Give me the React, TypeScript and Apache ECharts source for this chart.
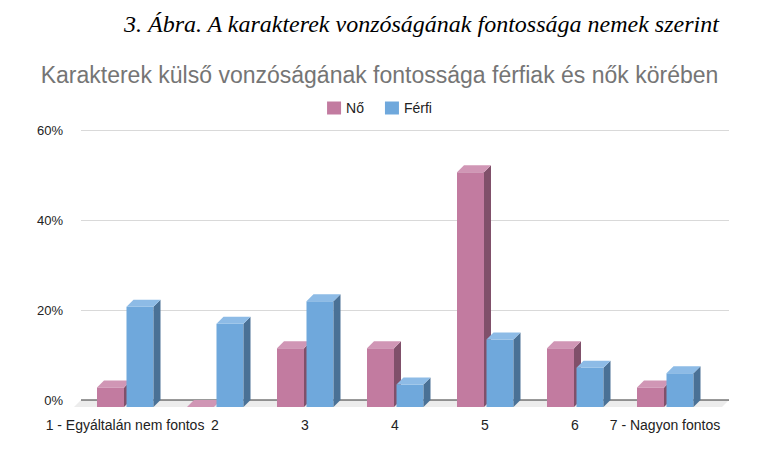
import React, { useEffect, useRef } from "react";
import * as echarts from "echarts";

const categories = ["1 - Egyáltalán nem fontos", "2", "3", "4", "5", "6", "7 - Nagyon fontos"];
const seriesNames = ["Nő", "Férfi"];
const noValues = [4.35, 0, 13.04, 13.04, 52.17, 13.04, 4.35];
const ferfiValues = [22.3, 18.5, 23.5, 5.0, 15.0, 8.7, 7.5];
const yTicks = [0, 20, 40, 60];

const caption = "3. Ábra. A karakterek vonzóságának fontossága nemek szerint";
const chartTitle = "Karakterek külső vonzóságának fontossága férfiak és nők körében";

const palette = [
  { front: "#c27ba0", top: "#d096b5", side: "#80506a" },
  { front: "#6fa8dc", top: "#8dbbe6", side: "#4a7196" },
];

function makeBarRenderer(idx: number) {
  return (params: any, api: any) => {
    const cat = api.value(0);
    const v = api.value(1);
    const top = api.coord([cat, v]);
    const base = api.coord([cat, 0]);
    const w = 27;
    const d = 7;
    const x0 = top[0] + (idx === 0 ? -28 : 1.5);
    const c = palette[idx];
    const h = base[1] - top[1];
    return {
      type: "group",
      children: [
        {
          type: "rect",
          shape: { x: x0, y: top[1], width: w, height: h },
          style: { fill: c.front },
        },
        {
          type: "polygon",
          shape: {
            points: [
              [x0 + w, top[1]],
              [x0 + w + d, top[1] - d],
              [x0 + w + d, base[1] - d],
              [x0 + w, base[1]],
            ],
          },
          style: { fill: c.side },
        },
        {
          type: "polygon",
          shape: {
            points: [
              [x0, top[1]],
              [x0 + w, top[1]],
              [x0 + w + d, top[1] - d],
              [x0 + d, top[1] - d],
            ],
          },
          style: { fill: c.top },
        },
      ],
    };
  };
}

export default function App() {
  const ref = useRef<HTMLDivElement>(null);
  useEffect(() => {
    document.body.style.margin = "0";
    const chart = echarts.init(ref.current!, null, { renderer: "svg" });
    chart.setOption({
      animation: false,
      backgroundColor: "#ffffff",
      title: [
        {
          text: caption,
          left: 119,
          top: 7,
          textStyle: {
            fontFamily: "Liberation Serif",
            fontStyle: "italic",
            fontWeight: "normal",
            fontSize: 24,
            color: "#000000",
          },
        },
        {
          text: chartTitle,
          left: "center",
          top: 58,
          textStyle: {
            fontFamily: "Liberation Sans",
            fontWeight: "normal",
            fontSize: 23,
            color: "#757575",
          },
        },
      ],
      legend: {
        data: seriesNames.map((n, i) => ({ name: n, itemStyle: { color: palette[i].front } })),
        top: 96,
        left: "center",
        icon: "rect",
        itemWidth: 14,
        itemHeight: 13,
        itemGap: 21,
        textStyle: { fontFamily: "Liberation Sans", fontSize: 14, color: "#222" },
      },
      grid: [
        { left: 81, right: 30, top: 130, height: 270 },
        { left: 80, width: 630, top: 137, height: 270 },
      ],
      xAxis: [
        {
          gridIndex: 0,
          type: "value",
          min: 0,
          max: 1,
          axisLine: { show: false },
          axisTick: { show: false },
          axisLabel: { show: false },
          splitLine: { show: false },
        },
        {
          gridIndex: 1,
          type: "category",
          data: categories,
          axisLine: { show: false },
          axisTick: { show: false },
          axisLabel: {
            interval: 0,
            margin: 11,
            fontFamily: "Liberation Sans",
            fontSize: 14,
            color: "#222",
          },
        },
      ],
      yAxis: [
        {
          gridIndex: 0,
          type: "value",
          min: yTicks[0],
          max: yTicks[yTicks.length - 1],
          interval: 20,
          axisLine: { show: false },
          axisTick: { show: false },
          axisLabel: {
            margin: 18,
            formatter: "{value}%",
            fontFamily: "Liberation Sans",
            fontSize: 13,
            color: "#222",
          },
          splitLine: { lineStyle: { color: "#d9d9d9", width: 1 } },
        },
        {
          gridIndex: 1,
          type: "value",
          min: 0,
          max: 60,
          show: false,
          splitLine: { show: false },
        },
      ],
      series: [
        {
          type: "custom",
          name: "floor",
          xAxisIndex: 0,
          yAxisIndex: 0,
          silent: true,
          z: 1,
          data: [[0, 0]],
          renderItem: (params: any, api: any) => {
            const cs = params.coordSys;
            const yb = cs.y + cs.height;
            const d = 7;
            return {
              type: "group",
              children: [
                {
                  type: "polygon",
                  shape: {
                    points: [
                      [cs.x, yb],
                      [cs.x + cs.width, yb],
                      [cs.x + cs.width - d, yb + d],
                      [cs.x - d, yb + d],
                    ],
                  },
                  style: { fill: "#ececec" },
                },
                {
                  type: "line",
                  shape: { x1: cs.x, y1: yb, x2: cs.x + cs.width, y2: yb },
                  style: { stroke: "#333333", lineWidth: 1 },
                },
              ],
            };
          },
        },
        {
          type: "custom",
          name: seriesNames[0],
          xAxisIndex: 1,
          yAxisIndex: 1,
          z: 2,
          itemStyle: { color: palette[0].front },
          data: noValues.map((v, i) => [i, v]),
          encode: { x: 0, y: 1 },
          renderItem: makeBarRenderer(0),
        },
        {
          type: "custom",
          name: seriesNames[1],
          xAxisIndex: 1,
          yAxisIndex: 1,
          z: 2,
          itemStyle: { color: palette[1].front },
          data: ferfiValues.map((v, i) => [i, v]),
          encode: { x: 0, y: 1 },
          renderItem: makeBarRenderer(1),
        },
      ],
    });
    return () => chart.dispose();
  }, []);
  return <div ref={ref} style={{ width: 759, height: 457 }} />;
}
